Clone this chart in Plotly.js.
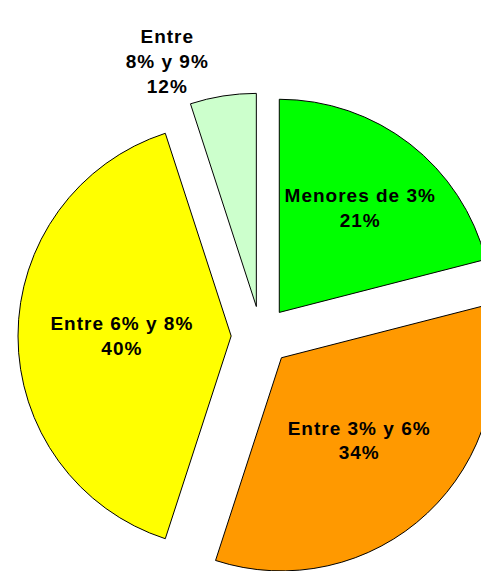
<!DOCTYPE html>
<html>
<head>
<meta charset="utf-8">
<script src="https://cdn.plot.ly/plotly-3.0.1.min.js"></script>
<style>
html,body{margin:0;padding:0;overflow:hidden;background:#fff;width:481px;height:571px;}
#chart{width:522px;height:672px;}
#chart text.slicetext{letter-spacing:1px;}
</style>
</head>
<body>
<div id="chart"></div>
<script>
const categories = ["Menores de 3%", "Entre 3% y 6%", "Entre 6% y 8%", "Entre 8% y 9%"];
const categoryLines = ["Menores de 3%", "Entre 3% y 6%", "Entre 6% y 8%", "Entre<br>8% y 9%"];
const values = [21, 34, 40, 5];
const percentLabels = ["21%", "34%", "40%", "12%"];
const colors = ["#00FF00", "#FF9900", "#FFFF00", "#CCFFCC"];

const texts = categoryLines.map((c, i) => c + "<br>" + percentLabels[i]);

const trace = {
  type: "pie",
  labels: categories,
  values: values,
  text: texts,
  textinfo: "text",
  hoverinfo: "label+percent",
  sort: false,
  direction: "clockwise",
  rotation: 0,
  pull: [0.14, 0.14, 0.14, 0.14],
  marker: {colors: colors, line: {color: "#000000", width: 1}},
  textposition: ["inside", "inside", "inside", "outside"],
  insidetextorientation: "horizontal",
  textfont: {family: "Arial, 'Liberation Sans', sans-serif", size: 19, color: "#000000", weight: "bold"},
  domain: {x: [18/522, 504/522], y: [0, 1]},
  showlegend: false
};

const layout = {
  width: 522,
  height: 672,
  margin: {l: 0, r: 0, t: 0, b: 0},
  paper_bgcolor: "#FFFFFF",
  showlegend: false
};

Plotly.newPlot("chart", [trace], layout, {staticPlot: true});
</script>
</body>
</html>
